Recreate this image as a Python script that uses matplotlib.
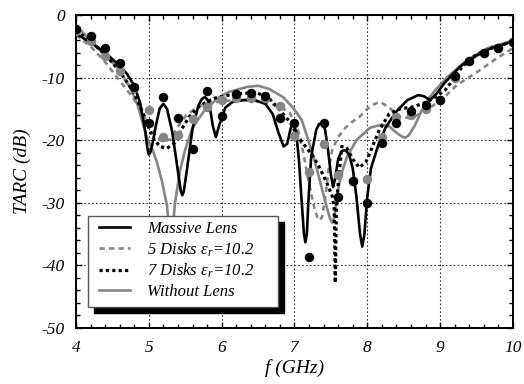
import matplotlib
matplotlib.use("Agg")
import matplotlib.pyplot as plt
from matplotlib.patches import Rectangle
from matplotlib.ticker import MultipleLocator

plt.rcParams["font.family"] = ["Liberation Serif", "DejaVu Serif"]
plt.rcParams["font.style"] = "italic"
plt.rcParams["mathtext.fontset"] = "custom"
plt.rcParams["mathtext.it"] = "Liberation Serif:italic"
plt.rcParams["mathtext.rm"] = "Liberation Serif:italic"
plt.rcParams["axes.unicode_minus"] = False

# %%
# simulated curves (f in GHz, TARC in dB)
massive_f = [4.0, 4.2, 4.4, 4.6, 4.7, 4.8, 4.88, 4.95, 4.98, 5.0, 5.02, 5.05, 5.1, 5.15, 5.2,
             5.25, 5.32, 5.4, 5.44, 5.46, 5.48, 5.52, 5.6, 5.68, 5.73, 5.77, 5.81, 5.85, 5.88,
             5.92, 5.97, 6.05, 6.15, 6.3, 6.45, 6.6, 6.7, 6.78, 6.85, 6.9, 6.95, 6.98, 7.02,
             7.06, 7.1, 7.13, 7.15, 7.17, 7.19, 7.23, 7.3, 7.34, 7.38, 7.42, 7.46, 7.5, 7.53,
             7.56, 7.6, 7.65, 7.7, 7.75, 7.8, 7.85, 7.9, 7.93, 7.96, 8.0, 8.05, 8.15, 8.25,
             8.4, 8.55, 8.7, 8.78, 8.86, 8.95, 9.05, 9.16, 9.3, 9.5, 9.7, 9.85, 10.0]
massive_db = [-3.0, -4.4, -6.0, -8.1, -9.4, -11.3, -14.0, -18.5, -21.3, -22.3, -22.0, -20.6,
              -17.5, -14.9, -14.2, -15.0, -18.6, -25.0, -28.2, -28.8, -28.2, -25.0, -18.2,
              -14.5, -13.4, -13.1, -13.6, -15.6, -17.8, -19.5, -17.5, -14.8, -13.9, -13.6,
              -13.6, -14.2, -15.8, -18.8, -21.0, -20.6, -18.0, -17.3, -18.5, -23.0, -30.0,
              -35.0, -36.3, -35.0, -30.0, -22.5, -18.3, -17.4, -17.3, -18.3, -21.5, -25.5,
              -27.5, -26.0, -23.0, -21.7, -21.6, -22.3, -24.5, -29.0, -35.0, -37.0, -35.0,
              -29.0, -24.5, -20.8, -18.0, -15.4, -13.6, -12.8, -13.0, -13.6, -12.6, -11.0,
              -9.6, -8.0, -6.5, -5.3, -4.8, -4.2]

disks5_f = [4.0, 4.2, 4.4, 4.6, 4.8, 4.95, 5.1, 5.2, 5.3, 5.4, 5.5, 5.66, 5.85, 6.0, 6.2, 6.4,
            6.6, 6.8, 6.94, 7.05, 7.12, 7.2, 7.28, 7.32, 7.35, 7.38, 7.42, 7.47, 7.52, 7.6,
            7.7, 7.8, 7.89, 8.0, 8.1, 8.18, 8.3, 8.45, 8.6, 8.75, 8.9, 9.05, 9.23, 9.51, 9.78,
            10.0]
disks5_db = [-3.2, -5.0, -7.5, -10.5, -13.5, -16.5, -19.5, -20.3, -19.8, -17.8, -16.2, -14.7,
             -14.0, -13.8, -13.6, -13.6, -14.0, -14.6, -15.7, -18.5, -22.0, -27.0, -31.2,
             -32.5, -32.8, -32.2, -29.5, -24.5, -21.5, -19.5, -18.0, -17.0, -16.3, -15.0, -14.2,
             -13.9, -14.8, -16.3, -16.5, -15.6, -14.5, -13.2, -11.2, -9.1, -6.9, -5.3]

disks7_f = [4.0, 4.2, 4.4, 4.6, 4.8, 4.95, 5.05, 5.15, 5.25, 5.35, 5.45, 5.55, 5.7, 5.9, 6.1,
            6.3, 6.5, 6.65, 6.8, 6.95, 7.05, 7.15, 7.25, 7.35, 7.45, 7.52, 7.545, 7.56, 7.575,
            7.6, 7.65, 7.72, 7.8, 7.89, 7.98, 8.05, 8.16, 8.3, 8.45, 8.62, 8.8, 8.95, 9.07, 9.2,
            9.3, 9.5, 9.75, 10.0]
disks7_db = [-2.5, -4.2, -6.3, -9.0, -12.5, -16.5, -19.5, -21.0, -21.3, -20.5, -18.3, -16.3,
             -14.5, -13.3, -12.8, -12.5, -12.5, -13.3, -15.2, -17.3, -19.5, -21.0, -22.5, -24.5,
             -27.0, -29.0, -31.0, -42.8, -31.0, -27.0, -21.0, -21.3, -23.0, -24.4, -23.5, -21.6,
             -18.5, -15.8, -15.0, -14.7, -14.0, -13.0, -12.0, -10.0, -8.3, -6.3, -5.1, -4.3]

nolens_f = [4.0, 4.19, 4.37, 4.56, 4.74, 4.85, 4.97, 5.05, 5.11, 5.18, 5.25, 5.28, 5.3, 5.32,
            5.36, 5.43, 5.5, 5.6, 5.75, 5.94, 6.1, 6.35, 6.5, 6.65, 6.84, 6.98, 7.1, 7.19, 7.27,
            7.36, 7.45, 7.49, 7.52, 7.55, 7.58, 7.64, 7.72, 7.85, 8.04, 8.2, 8.3, 8.4, 8.47,
            8.52, 8.57, 8.65, 8.75, 8.85, 8.95, 9.1, 9.37, 9.65, 9.85, 10.0]
nolens_db = [-1.6, -4.0, -6.1, -8.3, -11.5, -14.5, -19.5, -21.5, -23.5, -26.5, -30.5, -34.5,
             -37.0, -35.0, -30.0, -24.8, -21.5, -18.0, -15.5, -13.3, -12.3, -11.5, -11.3, -11.8,
             -13.1, -14.8, -16.8, -20.0, -23.0, -27.0, -31.0, -32.6, -33.2, -32.2, -29.0, -25.5,
             -22.7, -20.0, -18.0, -17.5, -17.8, -18.8, -19.4, -19.6, -19.2, -17.7, -15.2, -13.2,
             -11.8, -9.9, -7.2, -5.3, -4.6, -4.1]

# measured points
meas_f = [4.0, 4.2, 4.4, 4.6, 4.8, 5.0, 5.2, 5.4, 5.6, 5.8, 6.0, 6.2, 6.4, 6.6, 6.8, 7.0,
          7.2, 7.4, 7.6, 7.8, 8.0, 8.2, 8.4, 8.6, 8.8, 9.0, 9.2, 9.4, 9.6, 9.8, 10.0]
meas_black_db = [-2.2, -3.4, -5.3, -7.7, -11.5, -17.3, -13.1, -16.5, -21.4, -12.1, -16.1, -12.6,
                 -12.5, -12.9, -16.5, -17.3, -38.7, -17.3, -29.1, -26.5, -30.0, -20.4, -17.3,
                 -15.3, -14.4, -13.6, -9.7, -7.3, -6.1, -5.3, -4.3]
meas_grey_db = [-2.5, -4.2, -6.5, -9.0, -11.7, -15.2, -19.5, -19.2, -16.6, -14.7, -13.6, -13.3,
                -13.3, -13.3, -14.5, -19.3, -25.1, -20.6, -25.6, -26.5, -26.2, -19.5, -16.3,
                -16.0, -15.0, -13.6, -10.0, -7.3, -6.1, -5.3, -4.3]

labels = ["Massive Lens", "5 Disks \u03b5$_r$=10.2", "7 Disks \u03b5$_r$=10.2", "Without Lens"]

# %%
grey = "#858585"
fig = plt.figure(figsize=(5.24, 3.84), dpi=100)
ax = fig.add_axes([0.145, 0.146, 0.834, 0.815])

ax.plot(nolens_f, nolens_db, color=grey, lw=1.9, zorder=2)
ax.plot(disks5_f, disks5_db, color=grey, lw=1.9, ls=(0, (2.0, 1.6)), zorder=2)
ax.plot(disks7_f, disks7_db, color="k", lw=2.3, ls=(0, (1.0, 1.0)), zorder=3)
ax.plot(massive_f, massive_db, color="k", lw=1.9, zorder=3)
ax.plot(meas_f, meas_grey_db, "o", color=grey, ms=6.8, mec="none", zorder=4)
ax.plot(meas_f, meas_black_db, "o", color="k", ms=6.8, mec="none", zorder=4)

ax.set_xlim(4, 10)
ax.set_ylim(-50, 0)
ax.xaxis.set_major_locator(MultipleLocator(1))
ax.xaxis.set_minor_locator(MultipleLocator(0.2))
ax.yaxis.set_major_locator(MultipleLocator(10))
ax.yaxis.set_minor_locator(MultipleLocator(2))
ax.tick_params(which="both", direction="in", top=True, right=True, labelsize=12.5)
ax.tick_params(which="major", length=4, width=1)
ax.tick_params(which="minor", length=3, width=1)
ax.tick_params(axis="x", pad=9)
ax.tick_params(axis="y", pad=8)
ax.grid(True, which="major", ls=(0, (1.5, 2)), color="#333333", lw=0.8)
for sp in ax.spines.values():
    sp.set_linewidth(1.4)

ax.set_xlabel("f (GHz)", fontsize=14, labelpad=2)
ax.set_ylabel("TARC (dB)", fontsize=14, labelpad=8)

# legend box with a solid black drop shadow
ax.add_patch(Rectangle((0.041, 0.048), 0.435, 0.291, transform=ax.transAxes,
                       facecolor="k", edgecolor="k", zorder=5))
ax.add_patch(Rectangle((0.0275, 0.067), 0.435, 0.291, transform=ax.transAxes,
                       facecolor="white", edgecolor="#555555", lw=1.0, zorder=6))
h1, = ax.plot([], [], color="k", lw=1.9)
h2, = ax.plot([], [], color=grey, lw=1.9, ls=(0, (2.0, 1.6)))
h3, = ax.plot([], [], color="k", lw=2.3, ls=(0, (1.0, 1.0)))
h4, = ax.plot([], [], color=grey, lw=1.9)
leg = ax.legend([h1, h2, h3, h4], labels, loc="upper left", bbox_to_anchor=(0.052, 0.342),
                frameon=False, borderpad=0, borderaxespad=0, fontsize=12,
                handlelength=1.9, handletextpad=1.0, labelspacing=0.2)
leg.set_zorder(7)

fig.savefig("out.png", dpi=100)
